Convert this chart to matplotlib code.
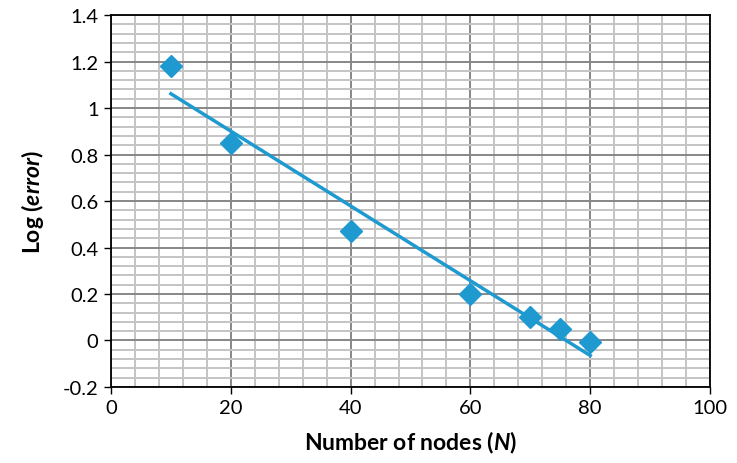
import numpy as np
import matplotlib.pyplot as plt
from matplotlib.ticker import MultipleLocator

nodes = [10, 20, 40, 60, 70, 75, 80]
log_err = [1.18, 0.85, 0.47, 0.2, 0.1, 0.05, -0.005]

plt.rcParams['font.family'] = ['Lato', 'DejaVu Sans']
plt.rcParams['mathtext.fontset'] = 'custom'
plt.rcParams['mathtext.it'] = 'Lato:italic:bold'
plt.rcParams['mathtext.rm'] = 'Lato:bold'

def main():
    fig = plt.figure(figsize=(7.37, 4.64), dpi=100)
    ax = fig.add_axes([0.1506, 0.1638, 0.8128, 0.8017])

    color = '#1f9ad0'
    ax.plot(nodes, log_err, 'D', color=color, markersize=11, zorder=4)

    # linear trendline
    k, b = np.polyfit(nodes, log_err, 1)
    xt = np.array([nodes[0], nodes[-1]])
    ax.plot(xt, k * xt + b, color=color, lw=2.5, zorder=3)

    ax.set_xlim(0, 100)
    ax.set_ylim(-0.2, 1.4)
    ax.xaxis.set_major_locator(MultipleLocator(20))
    ax.xaxis.set_minor_locator(MultipleLocator(4))
    ax.yaxis.set_major_locator(MultipleLocator(0.2))
    ax.yaxis.set_minor_locator(MultipleLocator(0.04))
    ax.grid(which='major', color='#878787', lw=1.4)
    ax.grid(which='minor', color='#c4c4c4', lw=1.4)
    ax.set_axisbelow(True)

    ax.set_yticks(np.arange(-0.2, 1.41, 0.2))
    ax.set_yticklabels(['-0.2', '0', '0.2', '0.4', '0.6', '0.8', '1', '1.2', '1.4'])
    ax.tick_params(which='major', labelsize=14.5, length=5, width=1, direction='out', pad=4)
    ax.tick_params(which='minor', length=0)

    for s in ax.spines.values():
        s.set_color('black')
        s.set_linewidth(1.3)

    ax.set_xlabel('Number of nodes ($\\it{N}$)', fontsize=16.5, fontweight='bold', labelpad=9)
    ax.set_ylabel('Log ($\\it{error}$)', fontsize=16.5, fontweight='bold', labelpad=12)

    fig.savefig('out.png', dpi=100)

main()
